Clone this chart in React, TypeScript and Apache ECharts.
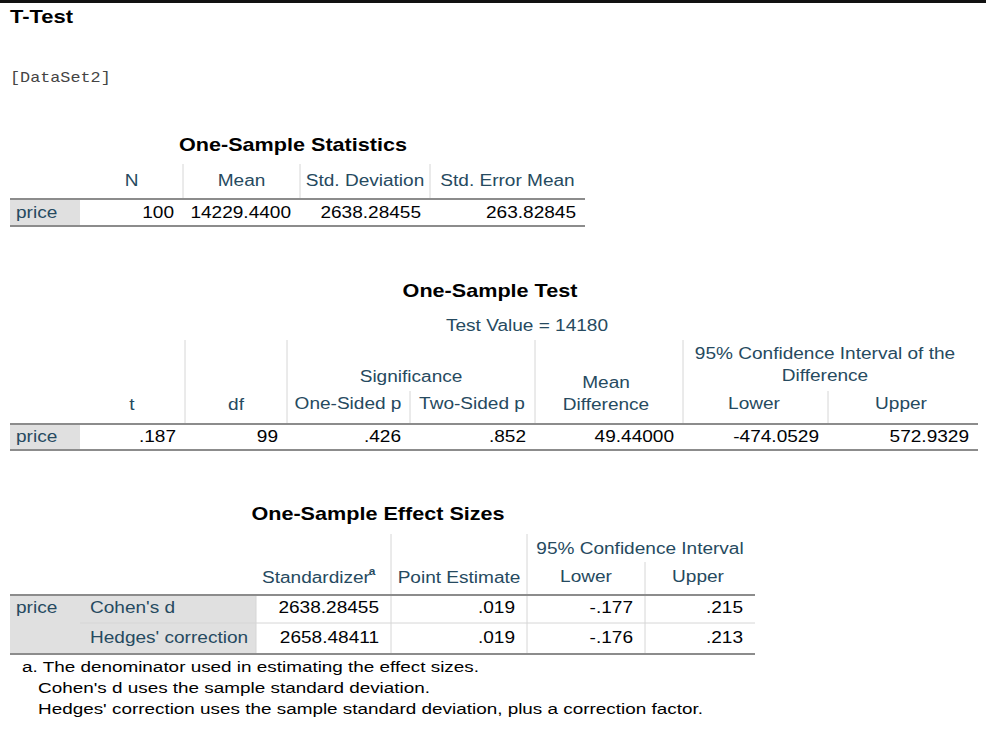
import { useEffect, useRef } from 'react';
import * as echarts from 'echarts';

// table contents
const statsHeaders = ['N', 'Mean', 'Std. Deviation', 'Std. Error Mean'];
const statsValues = ['100', '14229.4400', '2638.28455', '263.82845'];

const testValueLabel = 'Test Value = 14180';
const testValues = ['.187', '99', '.426', '.852', '49.44000', '-474.0529', '572.9329'];

const effectRows = ["Cohen's d", "Hedges' correction"];
const effectValues = [
  ['2638.28455', '.019', '-.177', '.215'],
  ['2658.48411', '.019', '-.176', '.213'],
];

const footnotes = [
  'a. The denominator used in estimating the effect sizes.',
  "Cohen's d uses the sample standard deviation.",
  "Hedges' correction uses the sample standard deviation, plus a correction factor.",
];

const FONT = '"Liberation Sans", Arial, sans-serif';
const HEAD = '#264a60';
const DATA = '#010205';
const LABEL_BG = '#e0e0e0';
const GRID = '#d6d6d6';
const RULE = '#8c8c8c';

type El = Record<string, unknown>;

const txt = (
  s: string, x: number, y: number,
  align: 'left' | 'center' | 'right' = 'left',
  opts: { size?: number; color?: string; bold?: boolean; font?: string; sx?: number } = {},
): El => ({
  type: 'text', x, y, scaleX: opts.sx ?? 1.19,
  style: {
    text: s, textAlign: align, textVerticalAlign: 'middle',
    fontSize: opts.size ?? 16, fill: opts.color ?? DATA,
    fontWeight: opts.bold ? 'bold' : 'normal', fontFamily: opts.font ?? FONT,
  },
});
const hline = (x1: number, x2: number, y: number, color = RULE, w = 2): El => ({
  type: 'line', shape: { x1, y1: y, x2, y2: y }, style: { stroke: color, lineWidth: w },
});
const vline = (x: number, y1: number, y2: number): El => ({
  type: 'line', shape: { x1: x, y1, x2: x, y2 }, style: { stroke: GRID, lineWidth: 1 },
});
const box = (x: number, y: number, w: number, h: number, fill = LABEL_BG): El => ({
  type: 'rect', shape: { x, y, width: w, height: h }, style: { fill },
});

const title = (s: string, x: number, y: number) =>
  txt(s, x, y, 'center', { size: 18, bold: true, color: '#000', sx: 1.2 });

function buildGraphics(): El[] {
  const g: El[] = [];
  g.push(box(0, 0, 986, 3, '#111'));
  g.push(txt('T-Test', 10, 17, 'left', { size: 18, bold: true, color: '#000', sx: 1.22 }));
  g.push(txt('[DataSet2]', 10, 78, 'left', { size: 14, color: '#444', font: '"Liberation Mono", monospace', sx: 1.2 }));

  // One-Sample Statistics
  g.push(title('One-Sample Statistics', 293, 145));
  const c1 = [80, 183, 300, 430, 585];
  [183, 300, 430].forEach((x) => g.push(vline(x, 164, 198)));
  statsHeaders.forEach((h, i) => g.push(txt(h, (c1[i] + c1[i + 1]) / 2, 181, 'center', { color: HEAD })));
  g.push(box(10, 200, 70, 25));
  g.push(hline(10, 585, 199));
  g.push(hline(10, 585, 226));
  g.push(txt('price', 16, 213, 'left', { color: HEAD }));
  statsValues.forEach((v, i) => g.push(txt(v, c1[i + 1] - 9, 213, 'right')));

  // One-Sample Test
  g.push(title('One-Sample Test', 490, 291));
  g.push(txt(testValueLabel, 527, 326, 'center', { color: HEAD }));
  const c2 = [80, 185, 287, 410, 535, 683, 828, 978];
  [185, 287, 535, 683].forEach((x) => g.push(vline(x, 340, 423)));
  [410, 828].forEach((x) => g.push(vline(x, 391, 423)));
  g.push(txt('t', 132, 405, 'center', { color: HEAD }));
  g.push(txt('df', 236, 405, 'center', { color: HEAD }));
  g.push(txt('Significance', 411, 377, 'center', { color: HEAD }));
  g.push(txt('One-Sided p', 348, 404, 'center', { color: HEAD }));
  g.push(txt('Two-Sided p', 472, 404, 'center', { color: HEAD }));
  g.push(txt('Mean', 606, 383, 'center', { color: HEAD }));
  g.push(txt('Difference', 606, 405, 'center', { color: HEAD }));
  g.push(txt('95% Confidence Interval of the', 825, 354, 'center', { color: HEAD }));
  g.push(txt('Difference', 825, 376, 'center', { color: HEAD }));
  g.push(txt('Lower', 754, 404, 'center', { color: HEAD }));
  g.push(txt('Upper', 901, 404, 'center', { color: HEAD }));
  g.push(box(10, 425, 70, 24));
  g.push(hline(10, 978, 424));
  g.push(hline(10, 978, 450));
  g.push(txt('price', 16, 437, 'left', { color: HEAD }));
  testValues.forEach((v, i) => g.push(txt(v, c2[i + 1] - 9, 437, 'right')));

  // One-Sample Effect Sizes
  g.push(title('One-Sample Effect Sizes', 378, 514));
  const c3 = [256, 391, 527, 645, 755];
  [391, 527].forEach((x) => g.push(vline(x, 534, 594)));
  g.push(vline(645, 562, 594));
  g.push(txt('95% Confidence Interval', 640, 549, 'center', { color: HEAD }));
  g.push(txt('Standardizer', 316, 578, 'center', { color: HEAD }));
  g.push(txt('a', 372, 571, 'center', { color: HEAD, size: 10, bold: true }));
  g.push(txt('Point Estimate', 459, 578, 'center', { color: HEAD }));
  g.push(txt('Lower', 586, 577, 'center', { color: HEAD }));
  g.push(txt('Upper', 698, 577, 'center', { color: HEAD }));
  g.push(box(10, 596, 70, 57));
  g.push(box(80, 596, 176, 57));
  g.push(hline(80, 755, 623, GRID, 1));
  g.push(hline(10, 755, 595));
  g.push(hline(10, 755, 654));
  g.push(txt('price', 16, 608, 'left', { color: HEAD }));
  effectRows.forEach((r, ri) => {
    const y = 608 + ri * 30;
    g.push(txt(r, 90, y, 'left', { color: HEAD }));
    effectValues[ri].forEach((v, i) => g.push(txt(v, c3[i + 1] - 12, y, 'right')));
  });
  [256, 391, 527, 645].forEach((x) => g.push(vline(x, 596, 653)));

  footnotes.forEach((f, i) =>
    g.push(txt(f, i === 0 ? 22 : 38, 667 + i * 21, 'left', { size: 15, color: '#000', sx: 1.26 })));
  return g;
}

export default function App() {
  const ref = useRef<HTMLDivElement>(null);

  useEffect(() => {
    if (!ref.current) return;
    const chart = echarts.init(ref.current, undefined, { renderer: 'svg' });
    chart.setOption({
      animation: false,
      backgroundColor: '#fff',
      graphic: buildGraphics(),
    });
    return () => chart.dispose();
  }, []);

  return <div ref={ref} style={{ position: 'fixed', left: 0, top: 0, width: 986, height: 737 }} />;
}
